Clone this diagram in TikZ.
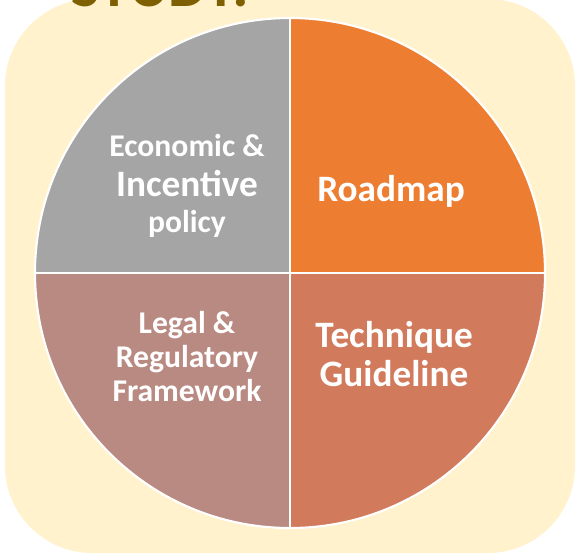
\documentclass[tikz,border=0pt]{standalone}
\usepackage{fontspec}
\setmainfont{Carlito}
\definecolor{bgcream}{HTML}{FFF2CC}
\definecolor{studygold}{HTML}{7F6000}
\definecolor{quadgray}{HTML}{A5A5A5}
\definecolor{quadorange}{HTML}{ED7D31}
\definecolor{quadrose}{HTML}{B98A82}
\definecolor{quadsalmon}{HTML}{D27A5C}
\tikzset{
	small label/.style={text=white, anchor=base, font=\bfseries\fontsize{22.5}{24}\selectfont},
	big label/.style={text=white, anchor=base, font=\bfseries\fontsize{26.5}{28}\selectfont},
	divider/.style={white, line width=2pt},
}
\begin{document}
\begin{tikzpicture}[x=0.025cm, y=-0.025cm]
			\useasboundingbox(0, 0) rectangle (577, 555);
			\clip(0, 0) rectangle (577, 555);
			\fill[bgcream, rounded corners=62pt](5, -1) rectangle (575, 553);
			\node[anchor=base west, inner sep=0pt, text=studygold, font=\bfseries\fontsize{43}{45}\selectfont](study) at(71, 6){STUDY:};

			% quarters of the pie
			\coordinate(c) at(290, 273);
			\fill[quadgray](c) -- ++(180:255) arc[start angle=180, end angle=270, radius=255] -- cycle;
			\fill[quadorange](c) -- ++(270:255) arc[start angle=270, end angle=360, radius=255] -- cycle;
			\fill[quadsalmon](c) -- ++(0:255) arc[start angle=0, end angle=90, radius=255] -- cycle;
			\fill[quadrose](c) -- ++(90:255) arc[start angle=90, end angle=180, radius=255] -- cycle;
			\draw[white, line width=1.5pt](c) circle[radius=255];
				\draw[divider](c) ++(-255, 0) to ++(510, 0);
				\draw[divider](c) ++(0, -255) to ++(0, 510);

			% top left
				\node[small label](econ) at(187, 156){Economic \&};
				\node[big label](incent) at(187, 196){Incentive};
				\node[small label](policy) at(187, 232){policy};
			% top right
				\node[big label](roadmap) at(391, 201){Roadmap};
			% bottom left
				\node[small label](legal) at(187, 333){Legal \&};
				\node[small label](regul) at(187, 367){Regulatory};
				\node[small label](frame) at(187, 401){Framework};
			% bottom right
				\node[big label](tech) at(394, 347){Technique};
				\node[big label](guide) at(394, 386){Guideline};
		\end{tikzpicture}
\end{document}
